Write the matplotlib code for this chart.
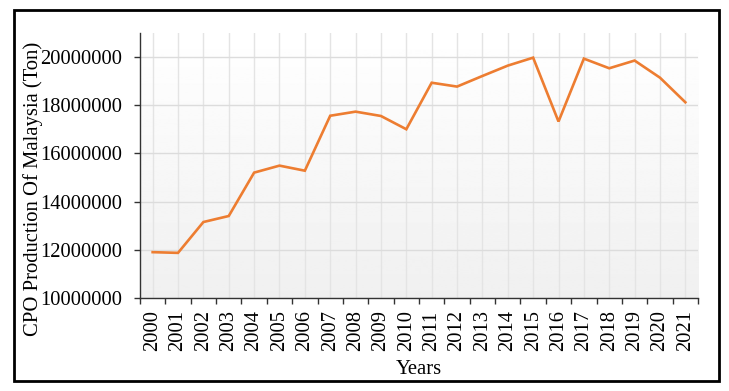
import numpy as np
import matplotlib.pyplot as plt
from matplotlib.patches import Rectangle
from matplotlib.ticker import FixedLocator

years = [str(y) for y in range(2000, 2022)]
production = [11900000, 11870000, 13150000, 13400000, 15200000, 15490000,
              15280000, 17560000, 17730000, 17550000, 17000000, 18930000,
              18770000, 19210000, 19640000, 19970000, 17320000, 19930000,
              19530000, 19850000, 19140000, 18120000]
yticks = [10000000, 12000000, 14000000, 16000000, 18000000, 20000000]

plt.rcParams['font.family'] = ['Liberation Serif', 'DejaVu Serif']

fig = plt.figure(figsize=(7.29, 3.91), dpi=100)
ax = fig.add_axes([0.192, 0.238, 0.7655, 0.678])

x = np.arange(len(years))

# background gradient, white at top to light grey at bottom
grad = np.linspace(1.0, 0.94, 256).reshape(-1, 1)
ax.imshow(grad, cmap='gray', vmin=0, vmax=1, aspect='auto',
          extent=[0, 1, 0, 1], transform=ax.transAxes, zorder=0)

ax.plot(x, production, color='#ED7D31', lw=1.9, zorder=3, solid_joinstyle='miter')

ax.set_xlim(-0.5, len(years) - 0.5)
ax.set_ylim(10000000, 21000000)
ax.set_yticks(yticks)
ax.set_yticklabels([str(v) for v in yticks], fontsize=14.8)
ax.set_xticks(x)
ax.set_xticklabels(years, rotation=90, fontsize=14.8)
ax.xaxis.set_minor_locator(FixedLocator(np.arange(-0.5, len(years), 1.0)))
ax.tick_params(axis='x', which='major', length=0, pad=9)
ax.tick_params(axis='x', which='minor', length=4, color='#333333', width=1)
ax.tick_params(axis='y', length=4, color='#333333', width=1, pad=9)

ax.grid(axis='y', color='#dcdcdc', lw=1, zorder=1)
ax.grid(axis='x', which='major', color='#e4e4e4', lw=1, zorder=1)
ax.set_axisbelow(True)

for s in ['top', 'right']:
    ax.spines[s].set_visible(False)
for s in ['left', 'bottom']:
    ax.spines[s].set_color('#333333')
    ax.spines[s].set_linewidth(1)

ax.set_ylabel('CPO Production Of Malaysia (Ton)', fontsize=14.9)
ax.yaxis.set_label_coords(-0.173, 0.41)
ax.set_xlabel('Years', fontsize=14.9)
ax.xaxis.set_label_coords(0.50, -0.235)

# outer frame
fig.patches.append(Rectangle((14 / 729, 1 - 381 / 391), 705 / 729, 371 / 391,
                             transform=fig.transFigure, fill=False,
                             edgecolor='black', lw=2))

plt.savefig('out.png', dpi=100)
